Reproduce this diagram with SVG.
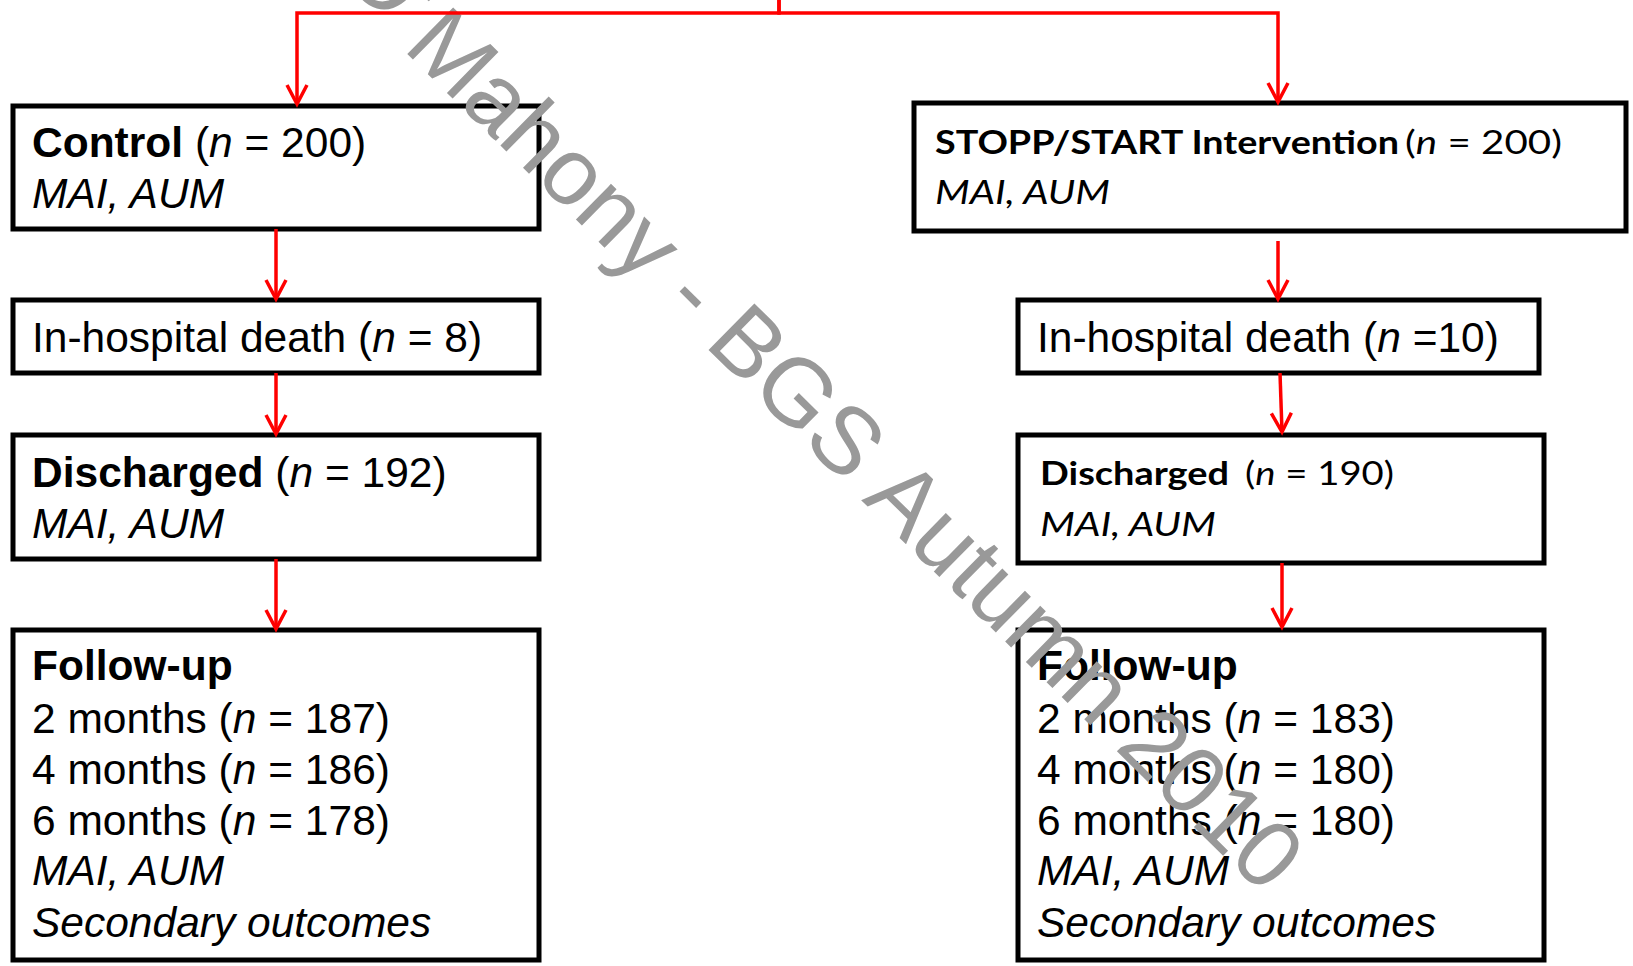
<svg xmlns="http://www.w3.org/2000/svg" width="1633" height="966" viewBox="0 0 1633 966">
<defs>
<style>
.box{fill:#fff;stroke:#000;stroke-width:5}
.a{font-family:"Liberation Sans",Arial,sans-serif;font-size:42.5px;fill:#000}
.c{font-family:Lato,"Open Sans",sans-serif;font-size:32.5px;fill:#000}
.b{font-weight:bold}
.i{font-style:italic}
.con{fill:none;stroke:#ff0000;stroke-width:3.5}
.wm{font-family:"Liberation Sans",Arial,sans-serif;font-size:95px;fill:#999999}
</style>
<marker id="arr" markerUnits="userSpaceOnUse" orient="auto" refX="0" refY="0" markerWidth="30" markerHeight="30" overflow="visible">
<path d="M-19,-10 L0,0 L-19,10" fill="none" stroke="#ff0000" stroke-width="3.5"/>
</marker>
</defs>
<rect width="1633" height="966" fill="#fff"/>

<g id="control">
<rect class="box" x="13" y="106" width="526" height="123"/>
<text class="a" x="32" y="157"><tspan class="b">Control</tspan> (<tspan class="i">n</tspan> = 200)</text>
<text class="a i" x="32" y="208">MAI, AUM</text>
</g>
<g id="death-control">
<rect class="box" x="13" y="300" width="526" height="73"/>
<text class="a" x="32" y="352">In-hospital death (<tspan class="i">n</tspan> = 8)</text>
</g>
<g id="discharged-control">
<rect class="box" x="13" y="435" width="526" height="124"/>
<text class="a" x="32" y="487"><tspan class="b">Discharged</tspan> (<tspan class="i">n</tspan> = 192)</text>
<text class="a i" x="32" y="538">MAI, AUM</text>
</g>
<g id="followup-control">
<rect class="box" x="13" y="630" width="526" height="330"/>
<text class="a b" x="32" y="680">Follow-up</text>
<text class="a" x="32" y="733">2 months (<tspan class="i">n</tspan> = 187)</text>
<text class="a" x="32" y="784">4 months (<tspan class="i">n</tspan> = 186)</text>
<text class="a" x="32" y="835">6 months (<tspan class="i">n</tspan> = 178)</text>
<text class="a i" x="32" y="885">MAI, AUM</text>
<text class="a i" x="32" y="937">Secondary outcomes</text>
</g>

<g id="intervention">
<rect class="box" x="914" y="103" width="712" height="128"/>
<text class="c b" x="935" y="154" textLength="464" lengthAdjust="spacingAndGlyphs">STOPP/START Intervention</text>
<text class="c" x="1405" y="154" textLength="157" lengthAdjust="spacingAndGlyphs">(<tspan class="i">n</tspan> = 200)</text>
<text class="c i" x="935" y="204" textLength="175" lengthAdjust="spacingAndGlyphs">MAI, AUM</text>
</g>
<g id="death-intervention">
<rect class="box" x="1018" y="300" width="521" height="73"/>
<text class="a" x="1037" y="352">In-hospital death (<tspan class="i">n</tspan> =10)</text>
</g>
<g id="discharged-intervention">
<rect class="box" x="1018" y="435" width="526" height="128"/>
<text class="c b" x="1040" y="485" textLength="189" lengthAdjust="spacingAndGlyphs">Discharged</text>
<text class="c" x="1245" y="485" textLength="149" lengthAdjust="spacingAndGlyphs">(<tspan class="i">n</tspan> = 190)</text>
<text class="c i" x="1040" y="536" textLength="176" lengthAdjust="spacingAndGlyphs">MAI, AUM</text>
</g>
<g id="followup-intervention">
<rect class="box" x="1018" y="630" width="526" height="330"/>
<text class="a b" x="1037" y="680">Follow-up</text>
<text class="a" x="1037" y="733">2 months (<tspan class="i">n</tspan> = 183)</text>
<text class="a" x="1037" y="784">4 months (<tspan class="i">n</tspan> = 180)</text>
<text class="a" x="1037" y="835">6 months (<tspan class="i">n</tspan> = 180)</text>
<text class="a i" x="1037" y="885">MAI, AUM</text>
<text class="a i" x="1037" y="937">Secondary outcomes</text>
</g>

<g id="watermark">
<text class="wm" transform="translate(336,-16) rotate(44.5)"><tspan dx="-8" dy="-8">O'</tspan><tspan dx="8" dy="8">Mahony - BGS Autumn 2010</tspan></text>
</g>

<g id="connectors">
<path class="con" d="M779,0 V13 H297 V104" marker-end="url(#arr)"/>
<path class="con" d="M779,0 V13 H1278 V102" marker-end="url(#arr)"/>
<path class="con" d="M276,229 V299" marker-end="url(#arr)"/>
<path class="con" d="M276,373 V434" marker-end="url(#arr)"/>
<path class="con" d="M276,559 V629" marker-end="url(#arr)"/>
<path class="con" d="M1278,241 V299" marker-end="url(#arr)"/>
<path class="con" d="M1280,373 L1282,432" marker-end="url(#arr)"/>
<path class="con" d="M1282,563 V627" marker-end="url(#arr)"/>
</g>
</svg>
